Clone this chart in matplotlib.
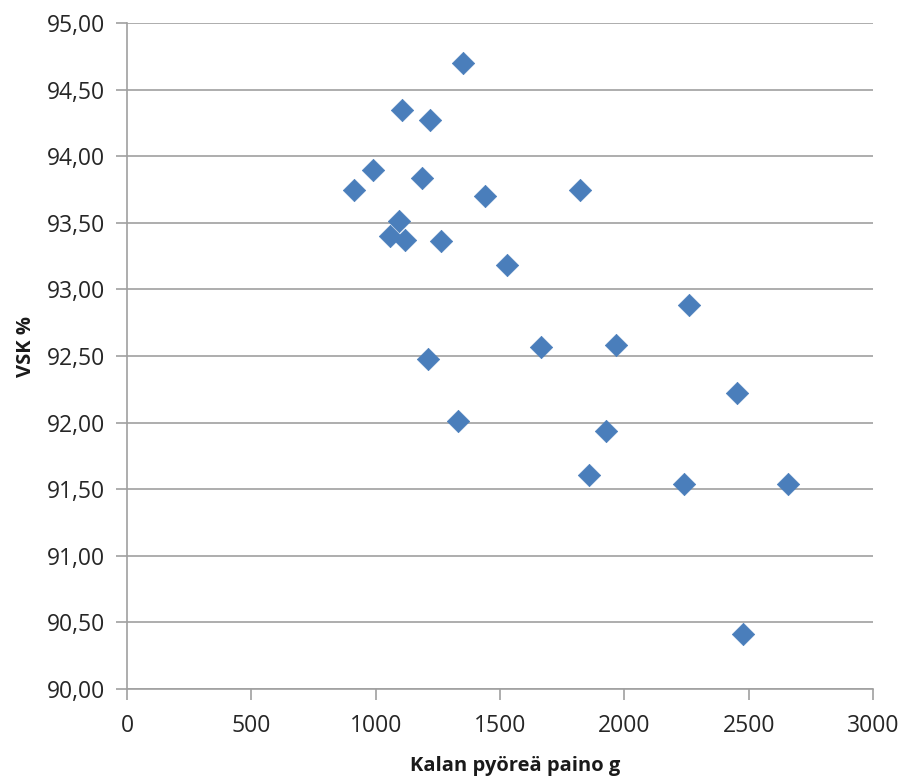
import numpy as np
import matplotlib.pyplot as plt
from matplotlib.ticker import FuncFormatter

# Fish round weight (g) vs VSK %
paino_g = [913, 989, 1106, 1218, 1351, 1186, 1439, 1821, 1094, 1057, 1118, 1263,
           1528, 2260, 1665, 1966, 1210, 2453, 1331, 1926, 1858, 2240, 2658, 2477]
vsk_pct = [93.75, 93.90, 94.35, 94.27, 94.70, 93.84, 93.70, 93.75, 93.51, 93.40, 93.37, 93.36,
           93.18, 92.88, 92.57, 92.58, 92.48, 92.22, 92.01, 91.94, 91.61, 91.54, 91.54, 90.41]

x_ticks = [0, 500, 1000, 1500, 2000, 2500, 3000]
y_ticks = [90.0, 90.5, 91.0, 91.5, 92.0, 92.5, 93.0, 93.5, 94.0, 94.5, 95.0]

plt.rcParams['font.family'] = ['Open Sans', 'DejaVu Sans']
grid_col = '#a0a0a0'

fig = plt.figure(figsize=(9.03, 7.78), dpi=100)
ax = fig.add_axes([0.1406, 0.1144, 0.8262, 0.856])

ax.scatter(paino_g, vsk_pct, marker='D', s=130, color='#4a7ebb', edgecolor='#4a7ebb',
           linewidth=0.5, zorder=3, clip_on=False)

ax.set_xlim(0, 3000)
ax.set_ylim(90, 95)
ax.set_xticks(x_ticks)
ax.set_yticks(y_ticks)
ax.yaxis.set_major_formatter(FuncFormatter(lambda v, p: f"{v:.2f}".replace('.', ',')))

ax.grid(axis='y', color=grid_col, linewidth=1.2)
ax.set_axisbelow(True)
for s in ['top', 'right']:
    ax.spines[s].set_visible(False)
for s in ['left', 'bottom']:
    ax.spines[s].set_color(grid_col)
    ax.spines[s].set_linewidth(1.2)
ax.tick_params(axis='both', length=8, width=1.2, color=grid_col, labelsize=16.5,
               labelcolor='#262626')
ax.tick_params(axis='x', pad=10)
ax.tick_params(axis='y', pad=8)

ax.set_xlabel('Kalan pyöreä paino g', fontsize=14.5, fontweight='bold', color='#1a1a1a')
ax.set_ylabel('VSK %', fontsize=14.5, fontweight='bold', color='#1a1a1a')
ax.xaxis.set_label_coords(0.52, -0.1)
ax.yaxis.set_label_coords(-0.122, 0.515)

fig.savefig('out.png', dpi=100)
